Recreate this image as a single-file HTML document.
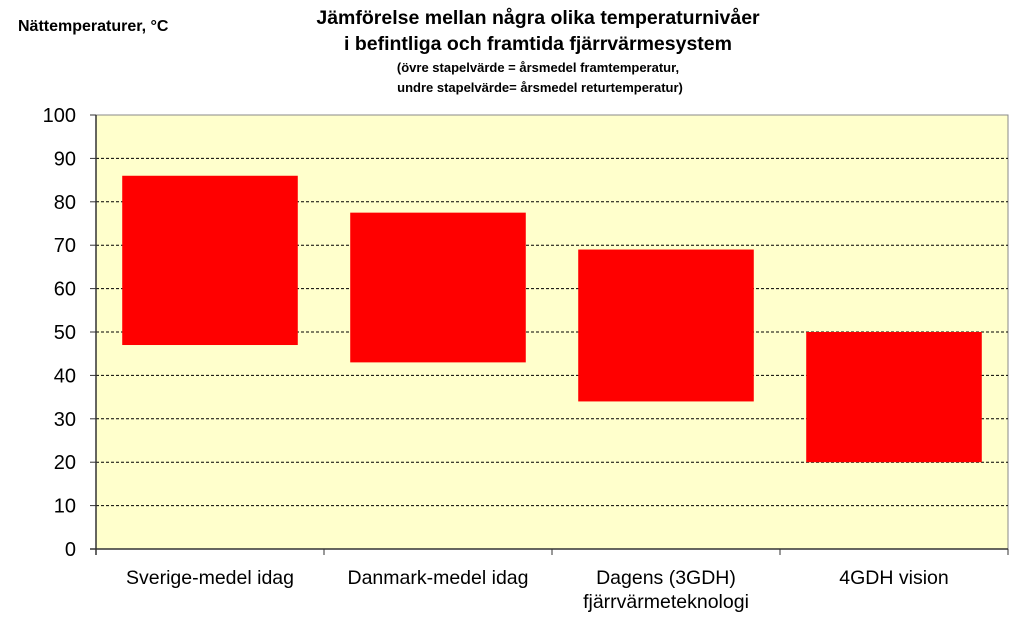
<!DOCTYPE html>
<html><head><meta charset="utf-8"><style>
body{margin:0;background:#fff;width:1024px;height:624px;overflow:hidden;font-family:"Liberation Sans",Arial,sans-serif}
</style></head><body>
<svg width="1024" height="624" xmlns="http://www.w3.org/2000/svg">
<text x="18" y="31" font-size="16" font-weight="bold" fill="#000">Nättemperaturer, °C</text>
<g text-anchor="middle" font-weight="bold" fill="#000">
<text x="538" y="24" font-size="19.5">Jämförelse mellan några olika temperaturnivåer</text>
<text x="538" y="50" font-size="19.5">i befintliga och framtida fjärrvärmesystem</text>
<text x="538" y="72" font-size="13">(övre stapelvärde = årsmedel framtemperatur,</text>
<text x="540" y="92" font-size="13">undre stapelvärde= årsmedel returtemperatur)</text>
</g>
<g id="plot"></g>
</svg>
<script>
const categories=["Sverige-medel idag","Danmark-medel idag","Dagens (3GDH)|fjärrvärmeteknologi","4GDH vision"];
const upperValues=[86,77.5,69,50];
const lowerValues=[47,43,34,20];
const yTicks=[0,10,20,30,40,50,60,70,80,90,100];
const L=96,R=1008,T=115,B=549,yMax=100;
const y=v=>B-(v/yMax)*(B-T);
const cw=(R-L)/categories.length;
const x=i=>L+i*cw;
const ns="http://www.w3.org/2000/svg";
const g=document.getElementById('plot');
function mk(t,a){const e=document.createElementNS(ns,t);for(const k in a)e.setAttribute(k,a[k]);g.appendChild(e);return e;}
let bg=mk('rect',{x:L,y:T,width:R-L,height:B-T,fill:'#ffffcc',stroke:'#888','stroke-width':1});


yTicks.forEach(v=>{
  if(v>0&&v<yMax){let l=mk('line',{x1:L,x2:R,y1:y(v),y2:y(v),stroke:'#000','stroke-width':1,'stroke-dasharray':'3,2'});
  
  }
  let tk=mk('line',{x1:L-6,x2:L,y1:y(v),y2:y(v),stroke:'#333'});
  
  
  let t=mk('text',{x:L-20,y:y(v)+7,'font-size':20,'text-anchor':'end',fill:'#000'});
  t.textContent=v;
  
  
});
categories.forEach((c,i)=>{
  let r=mk('rect',{x:x(i)+cw*0.115,y:y(upperValues[i]),width:cw*0.77,height:y(lowerValues[i])-y(upperValues[i]),fill:'#ff0000'});
  
  
  let tk=mk('line',{x1:x(i),x2:x(i),y1:B,y2:B+6,stroke:'#333'});
  
  
  c.split('|').forEach((s,j)=>{
    let t=mk('text',{x:x(i)+cw/2,y:B+35+j*24,'font-size':19.5,'text-anchor':'middle',fill:'#000'});
    t.textContent=s;
    
    
  });
});
let tk=mk('line',{x1:R,x2:R,y1:B,y2:B+6,stroke:'#333'});


let ax=mk('line',{x1:L,x2:L,y1:T,y2:B+6,stroke:'#333','stroke-width':1.5});


let bx=mk('line',{x1:L-6,x2:R,y1:B,y2:B,stroke:'#333','stroke-width':1.5});


</script>
</body></html>
